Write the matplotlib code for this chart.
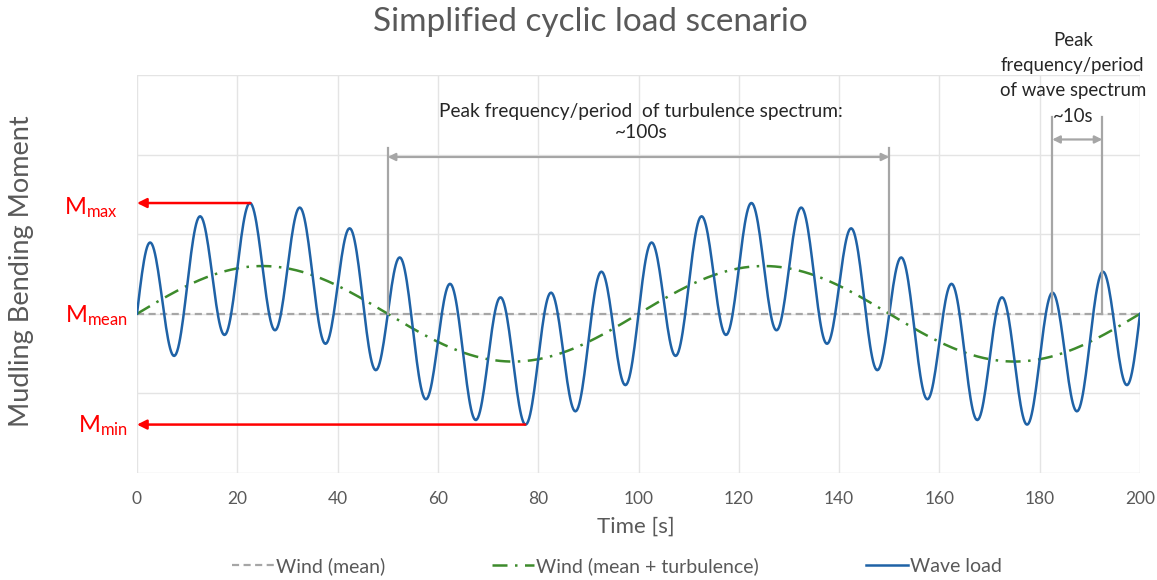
import numpy as np
import matplotlib
matplotlib.use("Agg")
import matplotlib.pyplot as plt

plt.rcParams["font.family"] = ["Lato", "DejaVu Sans"]
plt.rcParams["mathtext.fontset"] = "custom"
plt.rcParams["mathtext.rm"] = "Lato"
plt.rcParams["mathtext.it"] = "Lato"

# --- values (grid units, mean level = 0) ---
time_s = np.arange(0, 200.001, 0.2)
mean_level = 0.0
turb_amplitude = 0.6      # peak of the green curve above the mean
turb_period = 100.0       # s
wave_amplitude = 0.8      # extra swing of the blue curve around the green one
wave_period = 10.0        # s

wind_mean = np.full_like(time_s, mean_level)
wind_turb = mean_level + turb_amplitude * np.sin(2 * np.pi * time_s / turb_period)
wave_load = wind_turb + wave_amplitude * np.sin(2 * np.pi * time_s / wave_period)

x_ticks = [0, 20, 40, 60, 80, 100, 120, 140, 160, 180, 200]
y_grid = [-2, -1, 0, 1, 2, 3]
legend_labels = ["Wind (mean)", "Wind (mean + turbulence)", "Wave load"]

grey = "#A6A6A6"
blue = "#1F62A6"
green = "#3D8B2C"
red = "#FF0000"
text_grey = "#595959"

fig = plt.figure(figsize=(11.57, 5.8), dpi=100)
ax = fig.add_axes([137 / 1157, 1 - 473 / 580, (1140 - 137) / 1157, (473 - 75) / 580])

ax.set_xlim(0, 200)
ax.set_ylim(-2, 3)
ax.set_xticks(x_ticks)
ax.set_yticks(y_grid)
ax.set_yticklabels([])
ax.grid(True, color="#E4E4E4", lw=1)
ax.tick_params(length=0, pad=13, labelsize=12.5, labelcolor=text_grey)
for s in ax.spines.values():
    s.set_visible(False)

l_mean, = ax.plot(time_s, wind_mean, color=grey, lw=1.6, dashes=(3.2, 2))
l_turb, = ax.plot(time_s, wind_turb, color=green, lw=1.8, dashes=(6, 3, 1, 3))
l_wave, = ax.plot(time_s, wave_load, color=blue, lw=1.8)

# M labels and red arrows
i_max = np.argmax(wave_load[time_s < 50])
i_min = np.argmin(wave_load[time_s < 100])
red_arrow = dict(arrowstyle="-|>", color=red, lw=1.8, mutation_scale=14, shrinkA=0, shrinkB=0)
ax.annotate("", xy=(0, wave_load[i_max]), xytext=(time_s[i_max], wave_load[i_max]), arrowprops=red_arrow)
ax.annotate("", xy=(0, wave_load[i_min]), xytext=(time_s[i_min], wave_load[i_min]), arrowprops=red_arrow)
ax.text(-3.8, wave_load[i_max] - 0.06, r"$\mathrm{M}_{\mathrm{max}}$", color=red, fontsize=17,
        ha="right", va="center")
ax.text(-1.8, mean_level - 0.02, r"$\mathrm{M}_{\mathrm{mean}}$", color=red, fontsize=17,
        ha="right", va="center")
ax.text(-1.8, wave_load[i_min] - 0.02, r"$\mathrm{M}_{\mathrm{min}}$", color=red, fontsize=17,
        ha="right", va="center")

# period brackets
br = dict(color=grey, lw=1.6)
dbl = dict(arrowstyle="<|-|>", color=grey, lw=1.6, mutation_scale=11, shrinkA=0, shrinkB=0)
ax.plot([50, 50], [0, 2.08], **br)
ax.plot([150, 150], [0, 2.08], **br)
ax.annotate("", xy=(50, 1.97), xytext=(150, 1.97), arrowprops=dbl)
ax.text(100.5, 2.41, "Peak frequency/period  of turbulence spectrum:\n~100s",
        ha="center", va="center", fontsize=13.8, color="#262626", linespacing=1.33)

ax.plot([182.5, 182.5], [0, 2.47], clip_on=False, **br)
ax.plot([192.5, 192.5], [0, 2.47], clip_on=False, **br)
ax.annotate("", xy=(182.5, 2.19), xytext=(192.5, 2.19), arrowprops=dbl, annotation_clip=False)
ax.text(186.6, 2.96, "Peak\nfrequency/period\nof wave spectrum\n~10s",
        ha="center", va="center", fontsize=13.4, color="#262626", linespacing=1.6, clip_on=False)

fig.text(590 / 1157, 1 - 22 / 580, "Simplified cyclic load scenario", ha="center", va="center",
         fontsize=24, color=text_grey)
fig.text(22 / 1157, 1 - 271 / 580, "Mudling Bending Moment", rotation=90, ha="center", va="center",
         fontsize=19.5, color=text_grey)
fig.text(636 / 1157, 1 - 527 / 580, "Time [s]", ha="center", va="center", fontsize=16, color=text_grey)

# legend, three separate entries
for handle, label, xpos in zip([l_mean, l_turb, l_wave], legend_labels, [232, 492, 866]):
    lg = fig.legend([handle], [label], loc="center left", bbox_to_anchor=(xpos / 1157, 1 - 566 / 580),
                    frameon=False, fontsize=14, handlelength=2.15, handletextpad=0.12, borderpad=0,
                    borderaxespad=0)
    for t in lg.get_texts():
        t.set_color(text_grey)

fig.savefig("out.png", dpi=100)
